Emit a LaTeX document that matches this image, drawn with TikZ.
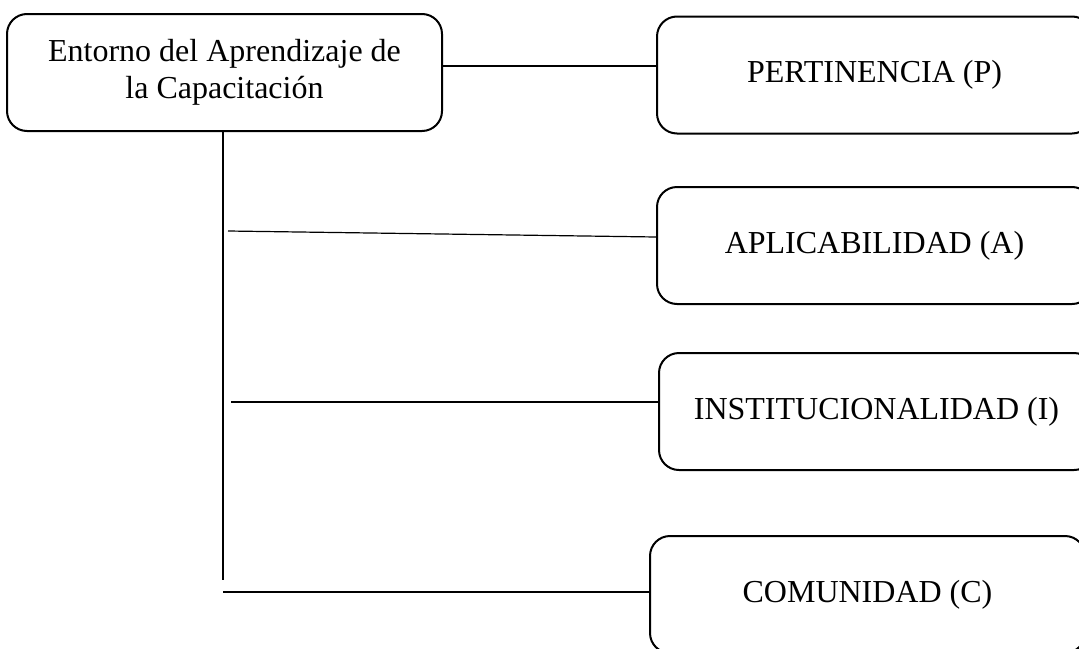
\documentclass[tikz,border=0pt]{standalone}
\usepackage{fontspec}
\setmainfont{Liberation Serif}
\usetikzlibrary{positioning}
\begin{document}
\begin{tikzpicture}[x=0.5pt,y=-0.5pt,
    caja/.style={draw,rounded corners=10pt,line width=1pt,minimum width=217.5pt,
      minimum height=58.5pt,align=center,inner sep=0pt,
      font=\fontsize{16}{18.5}\selectfont},
    linea/.style={line width=0.6pt}]
      \clip (0,0) rectangle (1079,648);
      \node[caja] (entorno) at (224.5,72.5) {Entorno del Aprendizaje de\\la Capacitaci\'on};
      \node[caja] (pert) at (874.5,75) {PERTINENCIA (P)};
      \node[caja] (apli) at (874.5,245.5) {APLICABILIDAD (A)};
      \node[caja] (inst) at (876.5,411.5) {INSTITUCIONALIDAD (I)};
      \node[caja] (comu) at (867.5,594.5) {COMUNIDAD (C)};
      \coordinate (tronco) at (223,580);
      \coordinate (ra) at (228,231);
      \coordinate (ri) at (231,402);
      \coordinate (rc) at (223,592);
      \draw[linea] (entorno.east |- 0,66) -- (pert.west |- 0,66);
      \draw[linea] (entorno.south -| tronco) -- (tronco);
      \draw[linea] (ra) -- (apli.west |- 0,237);
      \draw[linea] (ri) -- (inst.west |- ri);
      \draw[linea] (rc) -- (comu.west |- rc);
    \end{tikzpicture}
\end{document}
